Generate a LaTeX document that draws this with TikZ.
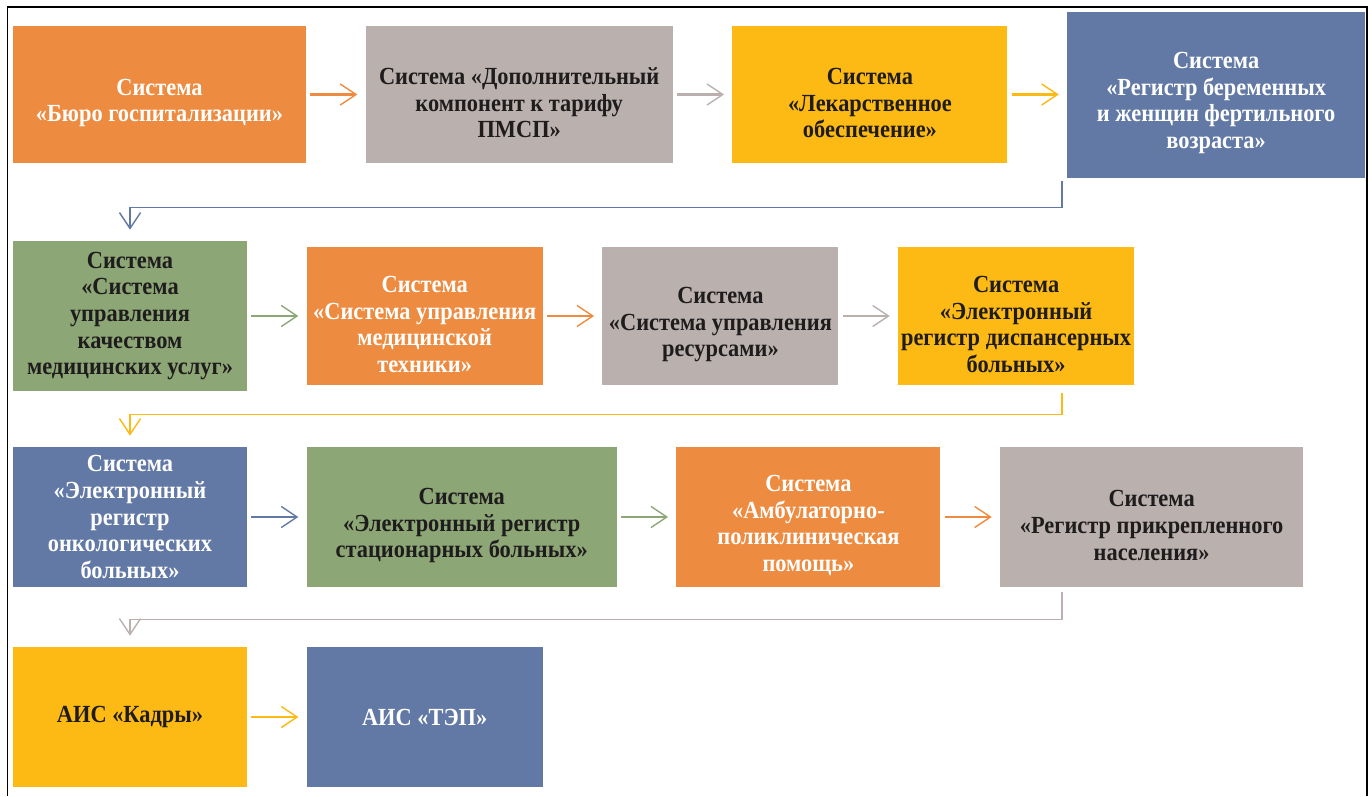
\documentclass[tikz,border=0pt]{standalone}
\usepackage{fontspec}
\setmainfont{Liberation Serif}[FakeStretch=0.91]
\usepackage{tikz}
\usetikzlibrary{arrows.meta,positioning}

\definecolor{corange}{RGB}{237,139,64}
\definecolor{cgray}{RGB}{186,177,175}
\definecolor{cyellow}{RGB}{253,185,20}
\definecolor{cblue}{RGB}{98,121,166}
\definecolor{cgreen}{RGB}{141,166,118}
\definecolor{ctext}{RGB}{30,28,28}
% strut that pushes the text a little below the middle
\newcommand{\topgap}{\rule{0pt}{19pt}}

\begin{document}
\begin{tikzpicture}[node distance=1.18cm,
    box/.style={inner xsep=1pt, inner ysep=2pt, align=center, font=\fontsize{14}{15.2}\selectfont\bfseries},
    obox/.style={box, fill=corange, text=white},
    gbox/.style={box, fill=cgray, text=ctext},
    ybox/.style={box, fill=cyellow, text=ctext},
    bbox/.style={box, fill=cblue, text=white},
    zbox/.style={box, fill=cgreen, text=ctext},
    >={Straight Barb[length=9pt,width=12pt,line width=0.8pt]},
    arr/.style={->, line width=1.6pt, draw=#1, shorten <=0.08cm, shorten >=0.16cm},
    link/.style={->, line width=0.9pt, draw=#1, shorten >=0.22cm}]
      \useasboundingbox (0,0) rectangle (27.44,-15.92);
      \draw[line width=0.9pt] (0.15,-15.92) |- (27.34,-0.14) -- (27.34,-15.92);
      % first row
      \node (Bur) [obox, minimum width=5.86cm, minimum height=2.74cm] at (3.19,-1.89) {\topgap Система\\«Бюро госпитализации»};
      \node (Dop) [gbox, minimum width=6.14cm, minimum height=2.74cm, right=of Bur] {\topgap Система «Дополнительный\\компонент к тарифу\\ПМСП»};
      \node (Lek) [ybox, minimum width=5.5cm, minimum height=2.74cm, right=of Dop] {\topgap Система\\«Лекарственное\\обеспечение»};
      \node (Ber) [bbox, minimum width=5.96cm, minimum height=3.32cm, right=of Lek] {\topgap Система\\«Регистр беременных\\и женщин фертильного\\возраста»};
      % second row
      \node (Kach) [zbox, minimum width=4.68cm, minimum height=3cm] at (2.6,-6.32) {Система\\«Система\\управления\\качеством\\медицинских услуг»};
      \node (Tech) [obox, minimum width=4.72cm, minimum height=2.76cm, right=of Kach] {\topgap Система\\«Система управления\\медицинской\\техники»};
      \node (Res) [gbox, minimum width=4.72cm, minimum height=2.76cm, right=of Tech] {\topgap Система\\«Система управления\\ресурсами»};
      \node (Disp) [ybox, minimum width=4.72cm, minimum height=2.76cm, right=of Res] {\topgap Система\\«Электронный\\регистр диспансерных\\больных»};
      % third row
      \node (Onk) [bbox, minimum width=4.68cm, minimum height=2.8cm] at (2.6,-10.34) {Система\\«Электронный\\регистр\\онкологических\\больных»};
      \node (Stat) [zbox, minimum width=6.2cm, minimum height=2.8cm, right=of Onk] {\topgap Система\\«Электронный регистр\\стационарных больных»};
      \node (Amb) [obox, minimum width=5.28cm, minimum height=2.8cm, right=of Stat] {\topgap Система\\«Амбулаторно-\\поликлиническая\\помощь»};
      \node (Prik) [gbox, minimum width=6.06cm, minimum height=2.8cm, right=of Amb] {\topgap Система\\«Регистр прикрепленного\\населения»};
      % last row
      \node (Kad) [ybox, minimum width=4.68cm, minimum height=2.8cm] at (2.6,-14.34) {АИС «Кадры»};
      \node (Tep) [bbox, minimum width=4.72cm, minimum height=2.8cm, right=of Kad] {АИС «ТЭП»};
      \coordinate (turn) at (21.24,0);
      \draw[arr=corange] (Bur) -- (Dop);
      \draw[arr=cgray] (Dop) -- (Lek);
      \draw[arr=cyellow] (Lek) -- (Ber);
      \draw[link=cblue] ([yshift=-0.06cm]Ber.south -| turn) |- ([yshift=0.66cm]Kach.north) -- (Kach.north);
      \draw[arr=cgreen] (Kach) -- (Tech);
      \draw[arr=corange] (Tech) -- (Res);
      \draw[arr=cgray] (Res) -- (Disp);
      \draw[link=cyellow] ([yshift=-0.16cm]Disp.south -| turn) |- ([yshift=0.64cm]Onk.north) -- (Onk.north);
      \draw[arr=cblue] (Onk) -- (Stat);
      \draw[arr=cgreen] (Stat) -- (Amb);
      \draw[arr=corange] (Amb) -- (Prik);
      \draw[link=cgray] ([yshift=-0.1cm]Prik.south -| turn) |- ([yshift=0.54cm]Kad.north) -- (Kad.north);
      \draw[arr=cyellow] (Kad) -- (Tep);
\end{tikzpicture}
\end{document}
